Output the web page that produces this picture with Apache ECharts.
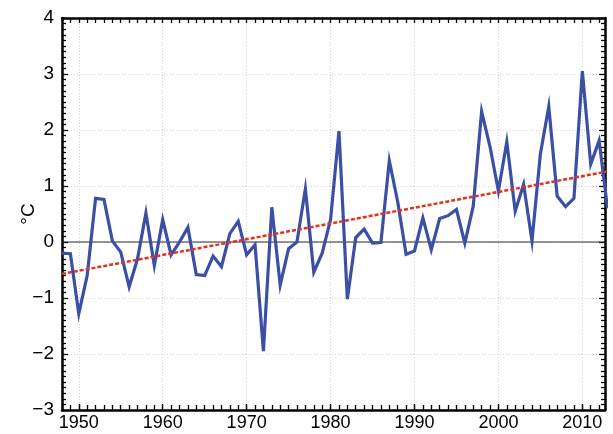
<!DOCTYPE html>
<html>
<head>
<meta charset="utf-8">
<script src="https://cdn.jsdelivr.net/npm/echarts@6/dist/echarts.min.js"></script>
<style>
  html, body { margin: 0; padding: 0; background: #fff; }
  #chart { width: 613px; height: 434px; }
</style>
</head>
<body>
<div id="chart"></div>
<script>
// Annual temperature anomaly (°C), 1948–2013
const years = [];
for (let y = 1948; y <= 2013; y++) years.push(y);

const anomaly = [
  -0.20, -0.21, -1.28, -0.60, 0.78, 0.76, 0.02, -0.18, -0.80, -0.30,
  0.52, -0.42, 0.40, -0.23, 0.00, 0.26, -0.58, -0.60, -0.25, -0.44,
  0.15, 0.37, -0.23, -0.05, -1.95, 0.62, -0.77, -0.12, 0.00, 0.95,
  -0.54, -0.20, 0.40, 1.98, -1.02, 0.08, 0.23, -0.02, -0.01, 1.45,
  0.72, -0.22, -0.16, 0.43, -0.14, 0.42, 0.47, 0.58, -0.02, 0.64,
  2.33, 1.70, 0.91, 1.79, 0.55, 1.03, 0.02, 1.57, 2.42, 0.82,
  0.63, 0.78, 3.05, 1.39, 1.81, 0.60
];

// Linear trend end points
const trendYears = [1948, 2013];
const trendValues = [-0.57, 1.26];

// Tick positions
const decadeTicks = [1950, 1960, 1970, 1980, 1990, 2000, 2010];
const yMin = -3, yMax = 4;
const xMin = 1948, xMax = 2012.7;

const fontFamily = '"Liberation Sans", Arial, sans-serif';
const frameLine = () => ({ show: true, onZero: false, lineStyle: { color: '#000', width: 2.5 } });
const tickStyle = () => ({ color: '#000', width: 1.3 });
const gridRect = () => ({ left: 62, right: 8, top: 18, bottom: 24, outerBoundsMode: 'none', containLabel: false });
const yearLabel = v => String(Math.round(v));
const minus = v => (v < 0 ? '\u2212' + Math.abs(v) : String(v));

const chart = echarts.init(document.getElementById('chart'), null, { renderer: 'canvas' });

chart.setOption({
  animation: false,
  backgroundColor: '#fff',
  grid: [gridRect(), gridRect()],
  xAxis: [
    {
      // bottom: decade labels and vertical grid lines
      type: 'value', gridIndex: 0, position: 'bottom',
      min: xMin, max: xMax,
      axisLine: frameLine(),
      axisTick: { show: true, inside: true, length: 6, customValues: decadeTicks, lineStyle: tickStyle() },
      axisLabel: { show: true, customValues: decadeTicks, margin: 4, formatter: yearLabel,
                   color: '#000', fontSize: 18, fontFamily: fontFamily },
      splitLine: { show: true, lineStyle: { color: '#d0d0d0', width: 1, type: [1, 2] } }
    },
    {
      // top: yearly ticks
      type: 'value', gridIndex: 0, position: 'top',
      min: xMin, max: xMax, interval: 1,
      axisLine: frameLine(),
      axisTick: { show: true, inside: true, length: 5, lineStyle: tickStyle() },
      axisLabel: { show: false },
      splitLine: { show: false }
    },
    {
      // bottom: yearly ticks
      type: 'value', gridIndex: 1, position: 'bottom',
      min: xMin, max: xMax, interval: 1,
      axisLine: { show: false, onZero: false },
      axisTick: { show: true, inside: true, length: 5, lineStyle: tickStyle() },
      axisLabel: { show: false },
      splitLine: { show: false }
    }
  ],
  yAxis: [
    {
      type: 'value', gridIndex: 0, position: 'left',
      min: yMin, max: yMax, interval: 1,
      name: '°C', nameLocation: 'middle', nameGap: 24, nameRotate: 90,
      nameMoveOverlap: false,
      nameTextStyle: { color: '#000', fontSize: 19, fontFamily: fontFamily },
      axisLine: frameLine(),
      axisTick: { show: true, inside: true, length: 6, lineStyle: tickStyle() },
      minorTick: { show: true, splitNumber: 10, length: 4, lineStyle: tickStyle() },
      axisLabel: { show: true, margin: 8, color: '#000', fontSize: 19, fontFamily: fontFamily,
                   formatter: minus },
      splitLine: { show: true, lineStyle: { color: '#d0d0d0', width: 1, type: [1, 2] } }
    },
    {
      type: 'value', gridIndex: 0, position: 'right',
      min: yMin, max: yMax, interval: 1,
      axisLine: frameLine(),
      axisTick: { show: true, inside: true, length: 6, lineStyle: tickStyle() },
      minorTick: { show: true, splitNumber: 10, length: 4, lineStyle: tickStyle() },
      axisLabel: { show: false },
      splitLine: { show: false }
    },
    {
      type: 'value', gridIndex: 1,
      min: yMin, max: yMax, interval: 1,
      axisLine: { show: false, onZero: false },
      axisTick: { show: false },
      axisLabel: { show: false },
      splitLine: { show: false }
    }
  ],
  series: [
    {
      // zero reference line
      type: 'line', xAxisIndex: 0, yAxisIndex: 0,
      data: [[xMin, 0], [xMax, 0]],
      symbol: 'none', silent: true, z: 1,
      lineStyle: { color: '#2e2e2e', width: 1.2 }
    },
    {
      type: 'line', xAxisIndex: 0, yAxisIndex: 0,
      data: years.map((y, i) => [y, anomaly[i]]),
      symbol: 'none', z: 3,
      lineStyle: { color: '#3a4fa5', width: 3.2, join: 'miter' }
    },
    {
      type: 'line', xAxisIndex: 0, yAxisIndex: 0,
      data: trendYears.map((y, i) => [y, trendValues[i]]),
      symbol: 'none', z: 4,
      lineStyle: { color: '#e3321f', width: 2.5, type: [4, 2] }
    }
  ]
});
</script>
</body>
</html>
